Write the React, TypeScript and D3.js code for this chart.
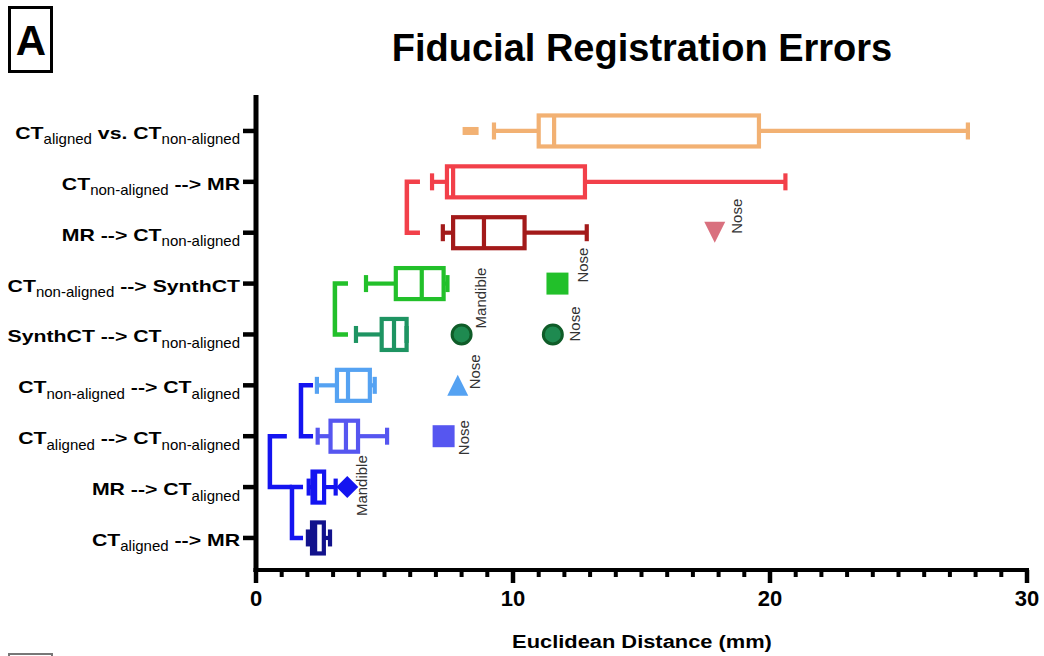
import React from 'react';
import * as d3 from 'd3';

// ---------- data ----------
const labelSegments: [string, boolean][][] = [
  [["CT", false], ["aligned", true], [" vs. ", false], ["CT", false], ["non-aligned", true]],
  [["CT", false], ["non-aligned", true], [" --> MR", false]],
  [["MR --> CT", false], ["non-aligned", true]],
  [["CT", false], ["non-aligned", true], [" --> SynthCT", false]],
  [["SynthCT --> CT", false], ["non-aligned", true]],
  [["CT", false], ["non-aligned", true], [" --> CT", false], ["aligned", true]],
  [["CT", false], ["aligned", true], [" --> CT", false], ["non-aligned", true]],
  [["MR --> CT", false], ["aligned", true]],
  [["CT", false], ["aligned", true], [" --> MR", false]],
];

const mins = [9.26, 6.85, 7.27, 4.28, 3.89, 2.37, 2.4, 2.05, 2.02];
const q1s = [11.0, 7.43, 7.67, 5.44, 4.89, 3.15, 2.9, 2.2, 2.18];
const medians = [11.6, 7.67, 8.87, 6.45, 5.37, 3.58, 3.5, 2.3, 2.3];
const q3s = [19.57, 12.8, 10.45, 7.3, 5.86, 4.43, 3.97, 2.65, 2.64];
const maxs = [27.7, 20.6, 12.87, 7.45, 5.86, 4.62, 5.1, 3.1, 2.88];
const boxColors = ["#F2B173", "#F2404A", "#A31A1A", "#22C02A", "#1E9462", "#55A2F2", "#5656F0", "#1414F0", "#12128C"];

const outlierRow = [0, 2, 3, 4, 4, 5, 6, 7];
const outlierValue = [8.35, 17.85, 11.73, 8.0, 11.55, 7.85, 7.3, 3.55];
const outlierShape = ["dash", "triangleDown", "square", "circle", "circle", "triangleUp", "square", "diamond"];
const outlierColor = ["#F2B173", "#D9707E", "#22C02A", "#1E8A50", "#1E8A50", "#55A2F2", "#5656F0", "#1414F0"];
const outlierLabel = ["", "Nose", "Nose", "Mandible", "Nose", "Nose", "Nose", "Mandible"];
const outlierLabelDx = [0, 27, 31, 24, 27, 22, 25, 20];
const outlierLabelDy = [0, 1, -1, -6, 7, 4, 19, 29];

const bracketX = [5.87, 3.07, 1.75, 0.54, 1.4];
const bracketTopEnd = [6.38, 3.58, 2.22, 1.2, 1.83];
const bracketBottomEnd = [6.38, 3.58, 2.22, 1.4, 1.83];
const bracketFrom = [1, 3, 5, 6, 7];
const bracketTo = [2, 4, 6, 7, 8];
const bracketColor = ["#F2404A", "#22C02A", "#1414F0", "#1414F0", "#1414F0"];

const xDomain = [0, 30];
const majorTicks = [0, 10, 20, 30];
const title = "Fiducial Registration Errors";
const xTitle = "Euclidean Distance (mm)";
const panelLetter = "A";

// ---------- helpers ----------
const FF = "'Liberation Sans', Arial, Helvetica, sans-serif";
let _ctx: CanvasRenderingContext2D | null = null;
function measure(text: string, font: string): number {
  if (!_ctx) {
    const c = document.createElement('canvas');
    _ctx = c.getContext('2d');
  }
  if (!_ctx) return text.length * 8;
  _ctx.font = font;
  return _ctx.measureText(text).width;
}

const BOLD_SIZE = 17, SUB_SIZE = 15, BOLD_SX = 1.25, SUB_SX = 1.0;

function YLabel({ segs, y }: { segs: [string, boolean][]; y: number }) {
  const items = segs.map(([t, sub]) => {
    const font = sub ? `${SUB_SIZE}px ${FF}` : `bold ${BOLD_SIZE}px ${FF}`;
    const sx = sub ? SUB_SX : BOLD_SX;
    return { t, sub, sx, w: measure(t, font) * sx, x: 0 };
  });
  let x = 240;
  for (let k = items.length - 1; k >= 0; k--) {
    x -= items[k].w;
    items[k].x = x;
  }
  return (
    <g>
      {items.map((s, k) => (
        <text
          key={k}
          transform={`translate(${s.x},${s.sub ? y + 13.5 : y + 8}) scale(${s.sx},1)`}
          fontSize={s.sub ? SUB_SIZE : BOLD_SIZE}
          fontWeight={s.sub ? 'normal' : 'bold'}
          fontFamily={FF}
          fill="#000"
          style={{ whiteSpace: 'pre' }}
        >
          {s.t}
        </text>
      ))}
    </g>
  );
}

function markerPath(shape: string, cx: number, cy: number): string {
  switch (shape) {
    case 'triangleDown':
      return `M${cx - 10.5},${cy - 11}L${cx + 10.5},${cy - 11}L${cx},${cy + 10}Z`;
    case 'triangleUp':
      return `M${cx - 10.5},${cy + 10.5}L${cx + 10.5},${cy + 10.5}L${cx},${cy - 10.5}Z`;
    case 'square':
      return `M${cx - 11},${cy - 11}h22v22h-22Z`;
    case 'diamond':
      return `M${cx},${cy - 11}L${cx + 11},${cy}L${cx},${cy + 11}L${cx - 11},${cy}Z`;
    case 'dash':
      return `M${cx - 8},${cy - 4}h16v8h-16Z`;
    default:
      return '';
  }
}

export default function App() {
  const W = 1044, H = 656;
  const x = d3.scaleLinear().domain(xDomain).range([256, 1027]);
  const y = d3.scaleLinear().domain([-0.707, 8.63]).range([95, 570]);
  const minorTicks = x.ticks(30).filter((t) => !majorTicks.includes(t));
  const rows = d3.range(labelSegments.length);
  const HALF = 15.5, CAP = 8.5, SW = 4.2;

  return (
    <svg width={W} height={H} style={{ position: 'absolute', left: 0, top: 0, background: '#fff' }}>
      <rect x={0} y={0} width={W} height={H} fill="#fff" />
      {/* panel letter */}
      <rect x={9.5} y={7.5} width={42} height={64} fill="none" stroke="#000" strokeWidth={3} />
      <text x={31} y={55} textAnchor="middle" fontSize={42} fontWeight="bold" fontFamily={FF}>{panelLetter}</text>
      <rect x={9} y={654} width={43} height={10} fill="none" stroke="#777" strokeWidth={2} />

      {/* title */}
      <text x={642} y={61} textAnchor="middle" fontSize={38} fontWeight="bold" fontFamily={FF}>{title}</text>

      {/* brackets */}
      {bracketX.map((bx, k) => {
        const y0 = y(bracketFrom[k]), y1 = y(bracketTo[k]);
        return (
          <path
            key={'br' + k}
            d={`M${x(bracketTopEnd[k])},${y0}H${x(bx)}V${y1}H${x(bracketBottomEnd[k])}`}
            fill="none"
            stroke={bracketColor[k]}
            strokeWidth={4.5}
          />
        );
      })}

      {/* boxes */}
      {rows.map((i) => {
        const cy = y(i);
        const c = boxColors[i];
        return (
          <g key={'box' + i} stroke={c} strokeWidth={SW} fill="none">
            <line x1={x(mins[i])} x2={x(q1s[i])} y1={cy} y2={cy} />
            <line x1={x(q3s[i])} x2={x(maxs[i])} y1={cy} y2={cy} />
            <line x1={x(mins[i])} x2={x(mins[i])} y1={cy - CAP} y2={cy + CAP} />
            <line x1={x(maxs[i])} x2={x(maxs[i])} y1={cy - CAP} y2={cy + CAP} />
            <rect x={x(q1s[i])} y={cy - HALF} width={x(q3s[i]) - x(q1s[i])} height={HALF * 2} />
            <line x1={x(medians[i])} x2={x(medians[i])} y1={cy - HALF} y2={cy + HALF} />
          </g>
        );
      })}

      {/* outliers */}
      {outlierValue.map((v, k) => {
        const cx = x(v), cy = y(outlierRow[k]);
        const shape = outlierShape[k];
        return (
          <g key={'out' + k}>
            {shape === 'circle' ? (
              <circle cx={cx} cy={cy} r={9.5} fill={outlierColor[k]} stroke="#0F5C28" strokeWidth={3} />
            ) : (
              <path d={markerPath(shape, cx, cy)} fill={outlierColor[k]} />
            )}
            {outlierLabel[k] && (
              <text
                transform={`translate(${cx + outlierLabelDx[k]},${cy + outlierLabelDy[k]}) rotate(-90)`}
                fontSize={15}
                fontFamily={FF}
                fill="#333"
              >
                {outlierLabel[k]}
              </text>
            )}
          </g>
        );
      })}

      {/* y axis */}
      <line x1={256} x2={256} y1={95} y2={572} stroke="#000" strokeWidth={5} />
      {rows.map((i) => (
        <line key={'yt' + i} x1={243} x2={256} y1={y(i)} y2={y(i)} stroke="#000" strokeWidth={4.5} />
      ))}
      {rows.map((i) => (
        <YLabel key={'yl' + i} segs={labelSegments[i]} y={y(i)} />
      ))}

      {/* x axis */}
      <line x1={253.5} x2={1029} y1={570} y2={570} stroke="#000" strokeWidth={4} />
      {minorTicks.map((t) => (
        <line key={'mt' + t} x1={x(t)} x2={x(t)} y1={570} y2={577} stroke="#000" strokeWidth={4} />
      ))}
      {majorTicks.map((t) => (
        <g key={'Mt' + t}>
          <line x1={x(t)} x2={x(t)} y1={570} y2={583} stroke="#000" strokeWidth={4.5} />
          <text x={x(t)} y={606} textAnchor="middle" fontSize={22} fontWeight="bold" fontFamily={FF}>{t}</text>
        </g>
      ))}
      <text transform={`translate(642,648) scale(1.15,1)`} textAnchor="middle" fontSize={19} fontWeight="bold" fontFamily={FF}>{xTitle}</text>
    </svg>
  );
}
